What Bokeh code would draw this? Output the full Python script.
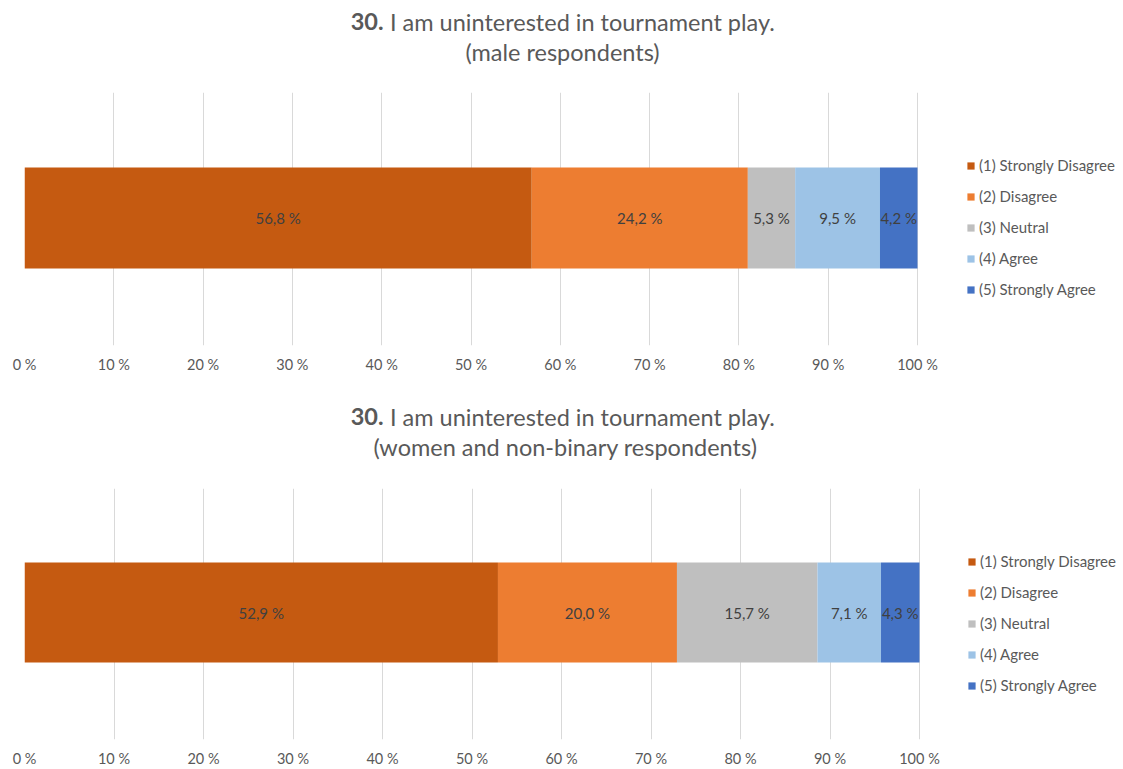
import numpy as np
from bokeh.plotting import figure
from bokeh.layouts import column
from bokeh.models import ColumnDataSource, FixedTicker
from bokeh.core.properties import value
from bokeh.embed import file_html
from bokeh.resources import INLINE

# ---- data ----
categories = ["(1) Strongly Disagree", "(2) Disagree", "(3) Neutral", "(4) Agree", "(5) Strongly Agree"]
male_values = [56.8, 24.2, 5.3, 9.5, 4.2]
women_values = [52.9, 20.0, 15.7, 7.1, 4.3]
tick_values = [0, 10, 20, 30, 40, 50, 60, 70, 80, 90, 100]
tick_labels = [f"{t} %" for t in tick_values]
title_number = "30."
title_text = "I am uninterested in tournament play."
subtitle_male = "(male respondents)"
subtitle_women = "(women and non-binary respondents)"

colors = ["#C55A11", "#ED7D31", "#BFBFBF", "#9DC3E6", "#4472C4"]
FONT = "Lato"
TXT = "#595959"
TITLE_SIZE = "23.5px"
LEFT = 24  # frames of all stacked figures are aligned by the column layout


def make_title(subtitle, height, base1, base2, split_x, center_x):
    t = figure(width=1123, height=height, output_backend="svg", toolbar_location=None,
               title=None, x_range=(LEFT, 1123), y_range=(0, height),
               x_axis_location=None, y_axis_location=None,
               min_border_left=LEFT, min_border_right=0, min_border_top=0, min_border_bottom=0)
    t.outline_line_color = None
    t.grid.visible = False
    t.text(x=[split_x], y=[height - base1], text=[title_number], text_align="right",
           text_baseline="alphabetic", text_font=value(FONT), text_font_size=TITLE_SIZE,
           text_font_style="bold", text_color=TXT)
    t.text(x=[split_x + 6.5], y=[height - base1], text=[title_text], text_align="left",
           text_baseline="alphabetic", text_font=value(FONT), text_font_size=TITLE_SIZE,
           text_color=TXT)
    t.text(x=[center_x], y=[height - base2], text=[subtitle], text_align="center",
           text_baseline="alphabetic", text_font=value(FONT), text_font_size=TITLE_SIZE,
           text_color=TXT)
    return t


def make_chart(vals, height, px_per, top, bottom, bar_center, bar_h, legend_loc):
    frame_w = 1123 - LEFT
    x_end = frame_w / px_per
    p = figure(width=1123, height=height, output_backend="svg", toolbar_location=None,
               title=None, x_range=(0, x_end), y_range=(0, 1), y_axis_location=None,
               min_border_left=LEFT, min_border_right=0,
               min_border_top=top, min_border_bottom=bottom)
    p.outline_line_color = None
    p.ygrid.grid_line_color = None
    p.xgrid.ticker = FixedTicker(ticks=tick_values)
    p.xgrid.grid_line_color = "#D9D9D9"
    p.xaxis.ticker = FixedTicker(ticks=tick_values)
    p.xaxis.major_label_overrides = {t: l for t, l in zip(tick_values, tick_labels)}
    p.xaxis.axis_line_color = None
    p.xaxis.major_tick_line_color = None
    p.xaxis.minor_tick_line_color = None
    p.xaxis.major_tick_out = 0
    p.xaxis.major_tick_in = 0
    p.xaxis.major_label_standoff = 10
    p.xaxis.major_label_text_font = FONT
    p.xaxis.major_label_text_font_size = "14.5px"
    p.xaxis.major_label_text_color = TXT

    keys = [f"s{i}" for i in range(len(categories))]
    data = {"y": [bar_center]}
    for k, v in zip(keys, vals):
        data[k] = [v]
    src = ColumnDataSource(data)
    p.hbar_stack(keys, y="y", height=bar_h, color=colors, source=src,
                 legend_label=categories, line_color=None)

    vals_arr = np.array(vals)
    ends = np.cumsum(vals_arr)
    mids = ends - vals_arr / 2
    lbl_src = ColumnDataSource(dict(x=mids, y=[bar_center] * len(vals),
                                    t=[f"{v:.1f} %".replace(".", ",") for v in vals]))
    p.text(x="x", y="y", text="t", source=lbl_src, text_align="center",
           text_baseline="middle", text_font=value(FONT), text_font_size="15px",
           text_color="#404040")

    lg = p.legend[0]
    lg.location = legend_loc
    lg.border_line_color = None
    lg.background_fill_alpha = 0
    lg.padding = 0
    lg.margin = 0
    lg.glyph_width = 9
    lg.glyph_height = 9
    lg.label_height = 20
    lg.spacing = 11
    lg.label_standoff = 4
    lg.label_text_font = FONT
    lg.label_text_font_size = "15px"
    lg.label_text_color = TXT
    return p


# top block: title 0..80, chart 80..392 (frame 92..345)
t1 = make_title(subtitle_male, 80, 21, 51, 383, 562)
p1 = make_chart(male_values, 312, 8.93, 12, 47,
                (345 - 217.5) / 253, 101 / 253, (966 - LEFT, 46))
# bottom block: title 392..472, chart 472..769 (frame 488..742)
t2 = make_title(subtitle_women, 80, 416 - 392, 446 - 392, 383, 565)
p2 = make_chart(women_values, 297, 8.95, 16, 27,
                (742 - 613.5) / 254, 101 / 254, (967 - LEFT, 44))

layout = column(t1, p1, t2, p2, spacing=0)
open("out.html", "w").write(file_html(layout, INLINE))
